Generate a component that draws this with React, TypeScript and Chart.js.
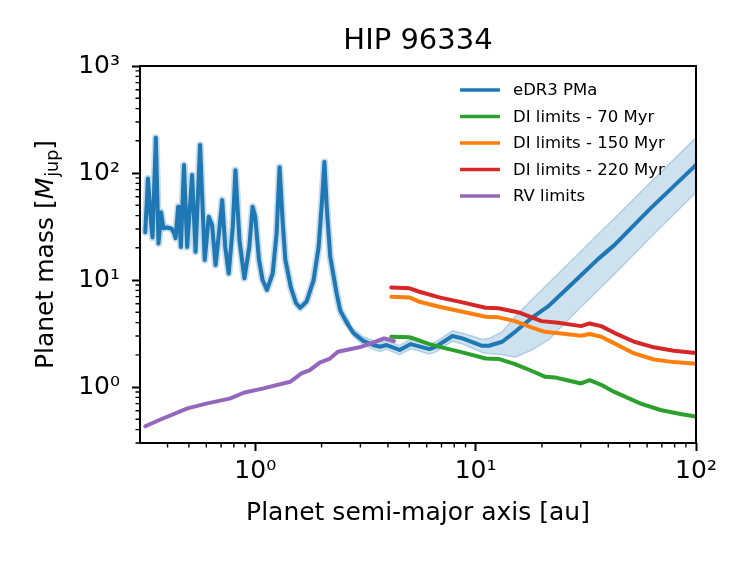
import { useEffect, useRef } from 'react';
import { Chart, registerables } from 'chart.js';

Chart.register(...registerables);

// ---------- data ----------
const TITLE = 'HIP 96334';
const X_TITLE = 'Planet semi-major axis [au]';
const Y_TITLE_MAIN = 'Planet mass [';
const Y_TITLE_SYM = 'M';
const Y_TITLE_SUB = 'jup';
const Y_TITLE_END = ']';

const X_MIN = 0.317;
const X_MAX = 100;
const Y_MIN = 0.3;
const Y_MAX = 1000;
const X_MAJOR = [1, 10, 100];
const Y_MAJOR = [1, 10, 100, 1000];
const X_TICK_LABELS = ['10⁰', '10¹', '10²'];
const Y_TICK_LABELS = ['10⁰', '10¹', '10²', '10³'];

const pmaX = [
  0.317, 0.326, 0.337, 0.342, 0.354, 0.364, 0.374, 0.383, 0.397, 0.41, 0.418, 0.429, 0.435, 0.447,
  0.45, 0.46, 0.475, 0.491, 0.517, 0.536, 0.562, 0.59, 0.615, 0.637, 0.661, 0.689, 0.708, 0.731,
  0.758, 0.791, 0.813, 0.848, 0.893, 0.94, 0.973, 1.0, 1.04, 1.08, 1.13, 1.2, 1.25, 1.29, 1.33,
  1.37, 1.45, 1.53, 1.6, 1.71, 1.84, 1.94, 2.01, 2.06, 2.11, 2.19, 2.34, 2.43, 2.6, 2.79, 3.09,
  3.43, 3.68, 3.94, 4.52, 5.08, 6.17, 6.6, 7.85, 8.71, 10.7, 11.5, 13.2, 15.1, 17.9, 21.4, 25.3,
  30.1, 35.8, 42.6, 62, 97.4, 100,
];
const pmaY = [
  28, 89, 34, 25, 213, 22, 43, 30.5, 31, 30.5, 30, 27.3, 24.6, 48.4,
  46, 20.4, 119, 20.4, 95.6, 18.4, 183, 15.4, 39, 32.6, 13.8, 31.5, 55.8, 20.4,
  11.5, 31.5, 106, 23.6, 10.4, 20.4, 48.4, 39, 15.4, 10, 8.1, 11.5, 27.3, 113, 36.4,
  15.4, 8.6, 6.1, 5.5, 6.3, 10, 20.4, 55.8, 127, 48.4, 16.5, 7.5, 5.2, 4.0, 3.2, 2.7,
  2.47, 2.38, 2.47, 2.22, 2.52, 2.26, 2.38, 3.0, 2.85, 2.43, 2.43, 2.65, 3.28, 4.4, 5.7, 7.9,
  11.1, 15.6, 21.2, 46.5, 113, 119,
];

const bandX = [
  2.6, 2.79, 3.09, 3.43, 3.68, 3.94, 4.52, 5.08, 6.17, 6.6, 7.85, 8.71, 10.7, 11.5, 13.2, 15.1,
  17.9, 21.4, 25.3, 30.1, 35.8, 42.6, 62, 97.4, 100,
];
const bandUpper = [
  4.4, 3.5, 2.95, 2.72, 2.62, 2.72, 2.45, 2.8, 2.5, 2.65, 3.35, 3.2, 2.8, 2.85, 3.3, 4.55,
  6.5, 9.3, 13.1, 18.7, 26.6, 37.8, 81.5, 203, 214,
];
const bandLower = [
  3.65, 2.95, 2.48, 2.25, 2.15, 2.25, 2.0, 2.28, 2.03, 2.13, 2.68, 2.52, 2.1, 2.05, 2.0, 1.9,
  2.2, 2.75, 3.9, 5.6, 7.95, 11.3, 24.8, 62.3, 65.5,
];

const di70X = [4.14, 5.01, 5.37, 6.17, 7.32, 8.71, 11.1, 12.7, 15.1, 17.9, 20.6, 22.9, 26.3, 30.1, 32.9, 37.1, 42.6, 56.1, 69.0, 84.9, 100];
const di70Y = [2.95, 2.92, 2.79, 2.52, 2.3, 2.11, 1.85, 1.83, 1.64, 1.42, 1.25, 1.23, 1.15, 1.08, 1.16, 1.05, 0.9, 0.7, 0.61, 0.56, 0.53];

const di150X = [4.14, 5.01, 5.56, 6.84, 8.71, 11.1, 12.7, 15.1, 17.9, 20.6, 24.5, 30.1, 32.9, 37.1, 42.6, 52.4, 64.4, 79.2, 97.4, 100];
const di150Y = [6.97, 6.88, 6.26, 5.63, 5.06, 4.54, 4.48, 4.13, 3.61, 3.28, 3.17, 3.02, 3.13, 2.95, 2.56, 2.06, 1.81, 1.71, 1.66, 1.65];

const di220X = [4.14, 5.01, 5.56, 6.84, 8.71, 11.1, 12.7, 15.7, 19.9, 23.7, 30.1, 32.9, 37.1, 42.6, 52.4, 64.4, 79.2, 97.4, 100];
const di220Y = [8.53, 8.37, 7.77, 6.88, 6.18, 5.5, 5.44, 4.98, 4.13, 3.98, 3.71, 3.93, 3.71, 3.21, 2.65, 2.35, 2.18, 2.09, 2.08];

const rvX = [0.317, 0.374, 0.493, 0.606, 0.772, 0.886, 1.09, 1.44, 1.62, 1.77, 1.96, 2.17, 2.37, 2.97, 3.4, 3.84, 4.26];
const rvY = [0.43, 0.5, 0.632, 0.704, 0.784, 0.885, 0.972, 1.12, 1.34, 1.44, 1.69, 1.83, 2.14, 2.35, 2.59, 2.85, 2.69];

const LEGEND_LABELS = ['eDR3 PMa', 'DI limits - 70 Myr', 'DI limits - 150 Myr', 'DI limits - 220 Myr', 'RV limits'];

// ---------- styles ----------
const BLUE = '#1f77b4';
const GREEN = '#2ca02c';
const ORANGE = '#ff7f0e';
const RED = '#d62728';
const PURPLE = '#9467bd';
const LEGEND_COLORS = [BLUE, GREEN, ORANGE, RED, PURPLE];
const FONT = "'DejaVu Sans', 'Liberation Sans', sans-serif";
const LW = 4;

const pts = (xs: number[], ys: number[]) => xs.map((x, i) => ({ x, y: ys[i] }));

function minorTicks(min: number, max: number): number[] {
  const out: number[] = [];
  for (let e = Math.floor(Math.log10(min)); e <= Math.ceil(Math.log10(max)); e++) {
    for (let k = 2; k <= 9; k++) {
      const v = k * Math.pow(10, e);
      if (v >= min * 0.9999 && v <= max * 1.0001) out.push(v);
    }
  }
  return out;
}

const decorPlugin = {
  id: 'decor',
  afterDraw(chart: any) {
    const { ctx, chartArea } = chart;
    const { left, right, top, bottom } = chartArea;
    const xs = chart.scales.x;
    const ys = chart.scales.y;
    ctx.save();
    // minor ticks
    ctx.strokeStyle = '#000';
    ctx.lineWidth = 1.4;
    ctx.beginPath();
    for (const v of minorTicks(X_MIN, X_MAX)) {
      const px = xs.getPixelForValue(v);
      ctx.moveTo(px, bottom);
      ctx.lineTo(px, bottom + 4.5);
    }
    for (const v of minorTicks(Y_MIN, Y_MAX)) {
      const py = ys.getPixelForValue(v);
      ctx.moveTo(left, py);
      ctx.lineTo(left - 4.5, py);
    }
    ctx.stroke();
    // frame
    ctx.lineWidth = 2;
    ctx.strokeRect(left, top, right - left, bottom - top);

    ctx.fillStyle = '#000';
    // title
    ctx.font = `29px ${FONT}`;
    ctx.textAlign = 'center';
    ctx.textBaseline = 'alphabetic';
    ctx.fillText(TITLE, (left + right) / 2, 49);
    // x title
    ctx.font = `25px ${FONT}`;
    ctx.fillText(X_TITLE, (left + right) / 2, 520);

    // y title (rotated, with italic M and subscript)
    ctx.save();
    ctx.translate(53, (top + bottom) / 2);
    ctx.rotate(-Math.PI / 2);
    ctx.textAlign = 'left';
    const fMain = `25px ${FONT}`;
    const fIt = `oblique 25px ${FONT}`;
    const fSub = `17.5px ${FONT}`;
    ctx.font = fMain;
    const w1 = ctx.measureText(Y_TITLE_MAIN).width;
    const w4 = ctx.measureText(Y_TITLE_END).width;
    ctx.font = fIt;
    const w2 = ctx.measureText(Y_TITLE_SYM).width;
    ctx.font = fSub;
    const w3 = ctx.measureText(Y_TITLE_SUB).width;
    let x0 = -(w1 + w2 + w3 + w4 + 1) / 2;
    ctx.font = fMain;
    ctx.fillText(Y_TITLE_MAIN, x0, 0);
    x0 += w1;
    ctx.font = fIt;
    ctx.fillText(Y_TITLE_SYM, x0, 0);
    x0 += w2 + 1;
    ctx.font = fSub;
    ctx.fillText(Y_TITLE_SUB, x0, 5);
    x0 += w3;
    ctx.font = fMain;
    ctx.fillText(Y_TITLE_END, x0, 0);
    ctx.restore();

    // legend
    const legY = [90, 116.5, 143, 169.5, 196];
    ctx.font = `16.5px ${FONT}`;
    ctx.textAlign = 'left';
    ctx.textBaseline = 'middle';
    LEGEND_LABELS.forEach((lab, i) => {
      ctx.strokeStyle = LEGEND_COLORS[i];
      ctx.lineWidth = 3.5;
      ctx.beginPath();
      ctx.moveTo(460, legY[i]);
      ctx.lineTo(500, legY[i]);
      ctx.stroke();
      ctx.fillStyle = '#000';
      ctx.fillText(lab, 513, legY[i] + 1);
    });
    ctx.restore();
  },
};

export default function App() {
  const ref = useRef<HTMLCanvasElement | null>(null);

  useEffect(() => {
    if (!ref.current) return;
    const line = (data: any, color: string, width: number, order: number, extra: any = {}) => ({
      data,
      borderColor: color,
      backgroundColor: color,
      borderWidth: width,
      pointRadius: 0,
      tension: 0,
      fill: false,
      clip: 0,
      order,
      borderJoinStyle: 'round',
      borderCapStyle: 'round',
      ...extra,
    });
    const chart = new Chart(ref.current, {
      type: 'line',
      data: {
        datasets: [
          line(pts(bandX, bandUpper), 'rgba(31,119,180,0.25)', 1.5, 10),
          line(pts(bandX, bandLower), 'rgba(31,119,180,0.25)', 1.5, 10, {
            fill: '-1',
            backgroundColor: 'rgba(31,119,180,0.22)',
          }),
          line(pts(pmaX, pmaY), 'rgba(31,119,180,0.25)', 7.5, 9, {
            segment: {
              borderColor: (c: any) => (c.p0.parsed.x >= 2.6 ? 'rgba(0,0,0,0)' : 'rgba(31,119,180,0.25)'),
            },
          }),
          line(pts(pmaX, pmaY), BLUE, LW, 8),
          line(pts(di70X, di70Y), GREEN, LW, 4),
          line(pts(di150X, di150Y), ORANGE, LW, 3),
          line(pts(di220X, di220Y), RED, LW, 2),
          line(pts(rvX, rvY), PURPLE, LW, 1),
        ],
      },
      options: {
        responsive: false,
        animation: false,
        events: [],
        layout: { padding: { left: 0, top: 66, right: 51, bottom: 0 } },
        plugins: { legend: { display: false }, tooltip: { enabled: false }, title: { display: false } },
        scales: {
          x: {
            type: 'logarithmic',
            min: X_MIN,
            max: X_MAX,
            border: { display: false },
            grid: {
              display: true,
              drawOnChartArea: false,
              drawTicks: true,
              tickLength: 8,
              tickWidth: 2,
              tickColor: '#000',
              color: '#000',
            },
            ticks: {
              autoSkip: false,
              maxRotation: 0,
              padding: 5,
              color: '#000',
              font: { family: FONT, size: 25 },
              callback: (v: any) => {
                const i = X_MAJOR.indexOf(Number(v));
                return i >= 0 ? X_TICK_LABELS[i] : '';
              },
            },
            afterBuildTicks: (s: any) => {
              s.ticks = X_MAJOR.map((v) => ({ value: v, major: true }));
            },
            afterFit: (s: any) => {
              s.height = 118;
              s.paddingLeft = 0;
              s.paddingRight = 0;
              s.paddingTop = 0;
              s.paddingBottom = 0;
            },
          },
          y: {
            type: 'logarithmic',
            min: Y_MIN,
            max: Y_MAX,
            border: { display: false },
            grid: {
              display: true,
              drawOnChartArea: false,
              drawTicks: true,
              tickLength: 8,
              tickWidth: 2,
              tickColor: '#000',
              color: '#000',
            },
            ticks: {
              autoSkip: false,
              padding: 12,
              color: '#000',
              font: { family: FONT, size: 25 },
              callback: (v: any) => {
                const i = Y_MAJOR.indexOf(Number(v));
                return i >= 0 ? Y_TICK_LABELS[i] : '';
              },
            },
            afterBuildTicks: (s: any) => {
              s.ticks = Y_MAJOR.map((v) => ({ value: v, major: true }));
            },
            afterFit: (s: any) => {
              s.width = 140;
              s.paddingLeft = 0;
              s.paddingRight = 0;
              s.paddingTop = 0;
              s.paddingBottom = 0;
            },
          },
        },
      } as any,
      plugins: [decorPlugin],
    });
    return () => chart.destroy();
  }, []);

  return (
    <div style={{ position: 'absolute', left: 0, top: 0, width: 747, height: 561, background: '#fff' }}>
      <canvas ref={ref} width={747} height={561} style={{ display: 'block' }} />
    </div>
  );
}
